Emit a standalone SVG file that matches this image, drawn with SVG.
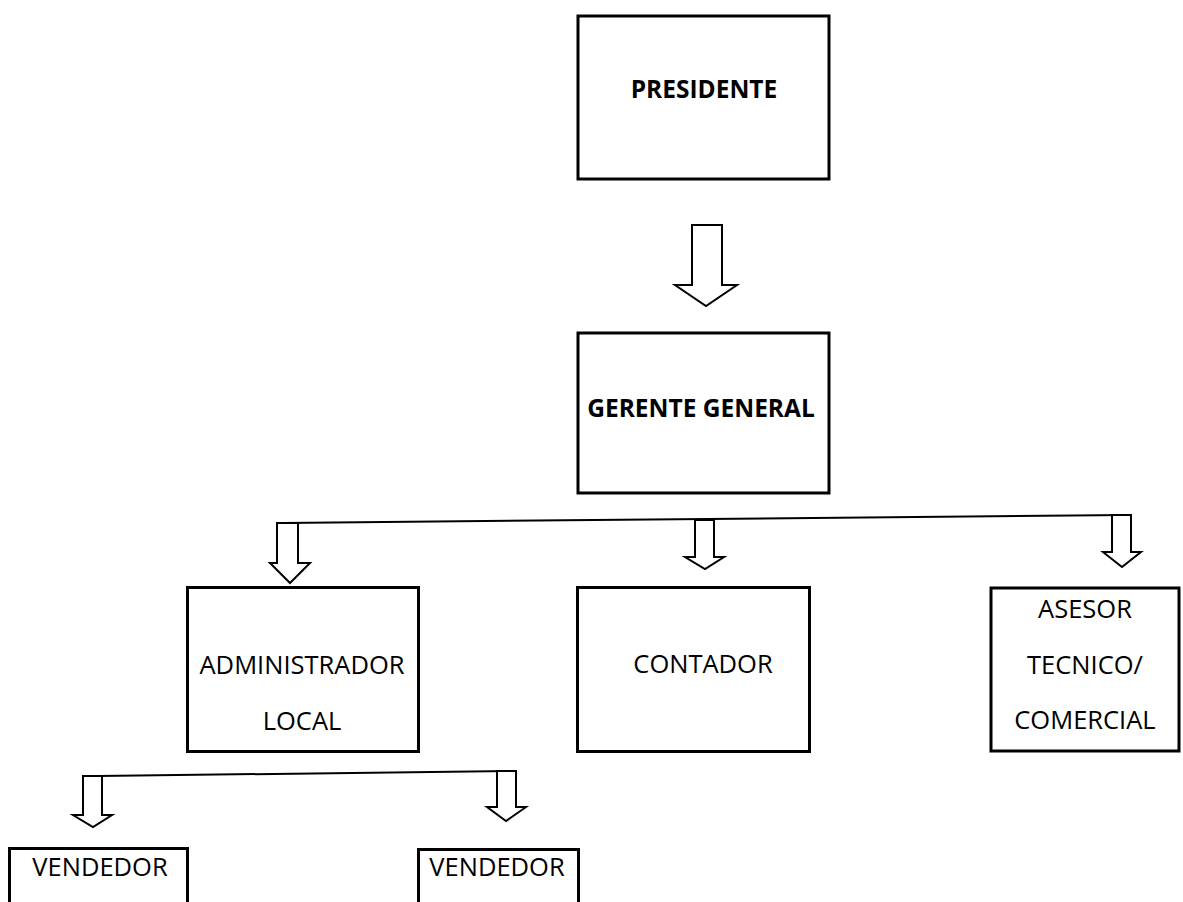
<svg xmlns="http://www.w3.org/2000/svg" width="1183" height="902" viewBox="0 0 1183 902">
<style>
.box{fill:#fff;stroke:#000;stroke-width:3}
.arr{fill:#fff;stroke:#000;stroke-width:2;stroke-linejoin:miter}
.ln{fill:none;stroke:#000;stroke-width:2}
.t{font-family:"Open Sans","Liberation Sans",sans-serif;font-size:25.5px;fill:#000;text-anchor:middle}
.b{font-weight:bold;font-size:24.5px}
</style>
<rect width="1183" height="902" fill="#fff"/>
<g id="connectors">
<polygon class="arr" points="692,225 722,225 722,285 737,285 706,306 675,285 692,285"/>
<line class="ln" x1="283" y1="523" x2="1127" y2="515"/>
<polygon class="arr" points="277,523 298,523 298,563 310,563 290,583 270,563 277,563"/>
<polygon class="arr" points="695,520 714,520 714,557 724,557 705,569 685,557 695,557"/>
<polygon class="arr" points="1112,515 1131,515 1131,552 1141,552 1122,567 1103,552 1112,552"/>
<line class="ln" x1="98" y1="776" x2="516" y2="771"/>
<polygon class="arr" points="83,776 102,776 102,815 112,815 93,827 73,815 83,815"/>
<polygon class="arr" points="497,771 516,771 516,807 526,807 506,821 487,807 497,807"/>
</g>
<g id="presidente">
<rect class="box" x="578" y="16" width="251" height="163"/>
<text class="t b" x="704" y="98">PRESIDENTE</text>
</g>
<g id="gerente">
<rect class="box" x="578" y="333" width="251" height="160"/>
<text class="t b" x="701" y="417">GERENTE GENERAL</text>
</g>
<g id="administrador">
<rect class="box" x="187.5" y="587.5" width="231" height="164"/>
<text class="t" x="302" y="674">ADMINISTRADOR</text>
<text class="t" x="302" y="730">LOCAL</text>
</g>
<g id="contador">
<rect class="box" x="577.5" y="587.5" width="232" height="164"/>
<text class="t" x="703" y="673">CONTADOR</text>
</g>
<g id="asesor">
<rect class="box" x="991" y="588" width="188" height="163"/>
<text class="t" x="1085" y="618">ASESOR</text>
<text class="t" x="1085" y="674">TECNICO/</text>
<text class="t" x="1085" y="729">COMERCIAL</text>
</g>
<g id="vendedor1">
<rect class="box" x="9.5" y="848.5" width="178" height="60"/>
<text class="t" x="100" y="876">VENDEDOR</text>
</g>
<g id="vendedor2">
<rect class="box" x="418.5" y="849.5" width="160" height="60"/>
<text class="t" x="497" y="876">VENDEDOR</text>
</g>
</svg>
